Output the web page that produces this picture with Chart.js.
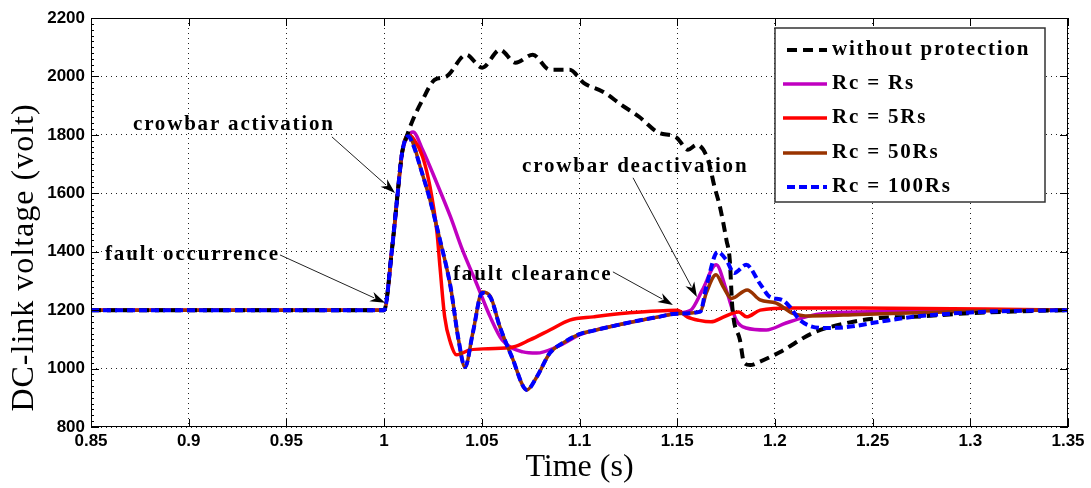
<!DOCTYPE html>
<html>
<head>
<meta charset="utf-8">
<title>DC-link voltage</title>
<script src="https://cdn.jsdelivr.net/npm/chart.js@4.4.0/dist/chart.umd.min.js"></script>
<style>
  html, body { margin: 0; padding: 0; background: #fff; }
  #wrap { width: 1091px; height: 488px; }
</style>
</head>
<body>
<div id="wrap"><canvas id="dcChart" width="1091" height="488"></canvas></div>
<script>
// --- tick labels ---
const xTickValues = [0.85, 0.9, 0.95, 1.0, 1.05, 1.1, 1.15, 1.2, 1.25, 1.3, 1.35];
const xTickLabels = ['0.85', '0.9', '0.95', '1', '1.05', '1.1', '1.15', '1.2', '1.25', '1.3', '1.35'];
const yTickValues = [800, 1000, 1200, 1400, 1600, 1800, 2000, 2200];
const yTickLabels = ['800', '1000', '1200', '1400', '1600', '1800', '2000', '2200'];

// --- series (time in s, voltage in V) ---
const seriesNames = ['without protection', 'Rc = Rs', 'Rc = 5Rs', 'Rc = 50Rs', 'Rc = 100Rs'];

const tBlack = [0.85, 1.0, 1.004, 1.0066, 1.0092, 1.0116, 1.0147, 1.0197, 1.0258, 1.0319, 1.042, 1.0502, 1.0593, 1.0673, 1.0761, 1.0848, 1.095, 1.1021, 1.1122, 1.1214, 1.1305, 1.1397, 1.1498, 1.1555, 1.16, 1.1658, 1.1691, 1.1719, 1.1752, 1.1769, 1.1782, 1.1821, 1.1843, 1.1874, 1.1921, 1.2027, 1.2195, 1.2368, 1.2535, 1.2708, 1.3003, 1.3261, 1.35];
const vBlack = [1200, 1200, 1406, 1577, 1738, 1795, 1851, 1920, 1988, 2000, 2074, 2030, 2091, 2047, 2074, 2023, 2023, 1978, 1947, 1903, 1862, 1810, 1790, 1749, 1766, 1714, 1622, 1553, 1440, 1372, 1211, 1098, 1019, 1012, 1023, 1057, 1122, 1156, 1173, 1177, 1190, 1196, 1200];

const tMag = [0.85, 1.0, 1.004, 1.0066, 1.0092, 1.0122, 1.0148, 1.0197, 1.0269, 1.034, 1.0401, 1.0472, 1.0543, 1.0604, 1.0711, 1.0781, 1.0883, 1.1, 1.1071, 1.1243, 1.1405, 1.1498, 1.1569, 1.1629, 1.17, 1.1751, 1.1802, 1.1853, 1.1956, 1.2057, 1.2195, 1.2281, 1.2566, 1.3074, 1.35];
const vMag = [1200, 1200, 1406, 1577, 1738, 1795, 1810, 1749, 1636, 1519, 1406, 1293, 1177, 1098, 1057, 1053, 1074, 1115, 1130, 1156, 1177, 1190, 1200, 1269, 1355, 1269, 1166, 1139, 1132, 1156, 1183, 1190, 1195, 1199, 1200];

const tRed = [0.85, 1.0, 1.004, 1.0066, 1.0092, 1.0122, 1.0152, 1.0197, 1.0235, 1.0271, 1.0286, 1.031, 1.034, 1.037, 1.0441, 1.0533, 1.066, 1.0746, 1.0848, 1.095, 1.1071, 1.1244, 1.15, 1.1551, 1.1612, 1.1673, 1.1733, 1.1785, 1.1815, 1.1855, 1.1925, 1.2088, 1.2434, 1.3074, 1.35];
const vRed = [1200, 1200, 1406, 1577, 1738, 1800, 1785, 1725, 1622, 1464, 1348, 1177, 1088, 1047, 1064, 1068, 1074, 1098, 1132, 1166, 1177, 1190, 1200, 1177, 1165, 1160, 1175, 1190, 1194, 1177, 1200, 1207, 1207, 1204, 1200];

const tBrown = [0.85, 1.0, 1.004, 1.0066, 1.0092, 1.0122, 1.0152, 1.0185, 1.0235, 1.0286, 1.034, 1.0381, 1.0414, 1.0454, 1.0502, 1.0543, 1.0593, 1.0654, 1.0731, 1.0781, 1.0848, 1.0916, 1.1, 1.1071, 1.1243, 1.1405, 1.1498, 1.1618, 1.1649, 1.1699, 1.1734, 1.1778, 1.1858, 1.1924, 1.2007, 1.2088, 1.218, 1.2433, 1.2769, 1.3074, 1.35];
const vBrown = [1200, 1200, 1406, 1577, 1738, 1800, 1765, 1690, 1577, 1440, 1280, 1098, 1005, 1122, 1262, 1248, 1142, 1040, 927, 971, 1053, 1088, 1118, 1130, 1156, 1177, 1188, 1195, 1259, 1321, 1282, 1240, 1269, 1235, 1224, 1190, 1180, 1185, 1192, 1198, 1200];

const tBlue = [0.85, 1.0, 1.004, 1.0066, 1.0092, 1.0122, 1.0152, 1.0185, 1.0235, 1.0286, 1.034, 1.0381, 1.0414, 1.0454, 1.0502, 1.0543, 1.0593, 1.0654, 1.0731, 1.0781, 1.0848, 1.0916, 1.1, 1.1071, 1.1243, 1.1405, 1.1498, 1.1618, 1.1649, 1.1707, 1.1751, 1.1792, 1.1853, 1.1924, 1.1975, 1.2037, 1.2077, 1.2128, 1.2246, 1.2368, 1.2535, 1.2708, 1.3053, 1.35];
const vBlue = [1200, 1200, 1406, 1577, 1738, 1795, 1760, 1690, 1577, 1440, 1280, 1098, 1005, 1122, 1259, 1245, 1142, 1040, 927, 971, 1053, 1088, 1118, 1130, 1156, 1177, 1188, 1195, 1280, 1399, 1372, 1327, 1355, 1290, 1245, 1235, 1211, 1166, 1139, 1142, 1160, 1177, 1194, 1200];

// --- annotations: text, text anchor (time, volt), arrow tail and head (time, volt) ---
const notes = [
  { text: 'crowbar activation',   at: [0.8715, 1834], from: [0.9733, 1793], to: [1.0056, 1601] },
  { text: 'fault occurrence',     at: [0.8572, 1389], from: [0.9467, 1389], to: [1.0005, 1225] },
  { text: 'fault clearance',      at: [1.0353, 1321], from: [1.1171, 1331], to: [1.1478, 1218] },
  { text: 'crowbar deactivation', at: [1.0706, 1690], from: [1.1274, 1653], to: [1.1601, 1245] }
];

function pts(ts, vs) {
  return ts.map((t, i) => ({ x: t, y: vs[i] }));
}

const serifBold = 'bold 21px "Liberation Serif", "DejaVu Serif", serif';

// frame, inward ticks, y title, annotations and the boxed legend
const decorPlugin = {
  id: 'decor',
  afterDraw(chart) {
    const { ctx, chartArea: a, scales: { x, y } } = chart;
    ctx.save();

    // plot frame
    ctx.setLineDash([]);
    ctx.strokeStyle = '#000';
    ctx.lineWidth = 1;
    ctx.strokeRect(a.left + 0.5, a.top + 0.5, a.right - a.left - 1, a.bottom - a.top - 1);

    // inward ticks (matlab look)
    ctx.beginPath();
    x.ticks.forEach(t => {
      const px = Math.round(x.getPixelForValue(t.value)) + 0.5;
      ctx.moveTo(px, a.bottom); ctx.lineTo(px, a.bottom - 8);
      ctx.moveTo(px, a.top); ctx.lineTo(px, a.top + 8);
    });
    y.ticks.forEach(t => {
      const py = Math.round(y.getPixelForValue(t.value)) + 0.5;
      ctx.moveTo(a.left, py); ctx.lineTo(a.left + 8, py);
      ctx.moveTo(a.right, py); ctx.lineTo(a.right - 8, py);
    });
    for (let v = y.min; v <= y.max; v += 20) {
      const py = Math.round(y.getPixelForValue(v)) + 0.5;
      ctx.moveTo(a.left, py); ctx.lineTo(a.left + 3, py);
    }
    ctx.stroke();

    // y axis title
    ctx.save();
    ctx.translate(a.left - 66, (a.top + a.bottom) / 2 + 35);
    ctx.rotate(-Math.PI / 2);
    ctx.font = '32px "Liberation Serif", "DejaVu Serif", serif';
    ctx.letterSpacing = '1px';
    ctx.fillStyle = '#000';
    ctx.textAlign = 'center';
    ctx.textBaseline = 'middle';
    ctx.fillText('DC-link voltage (volt)', 0, 0);
    ctx.restore();

    // annotations
    ctx.font = serifBold;
    ctx.letterSpacing = '1.8px';
    ctx.textAlign = 'left';
    ctx.textBaseline = 'middle';
    notes.forEach(n => {
      ctx.fillStyle = '#000';
      ctx.fillText(n.text, x.getPixelForValue(n.at[0]), y.getPixelForValue(n.at[1]));
      const x0 = x.getPixelForValue(n.from[0]), y0 = y.getPixelForValue(n.from[1]);
      const x1 = x.getPixelForValue(n.to[0]), y1 = y.getPixelForValue(n.to[1]);
      const ang = Math.atan2(y1 - y0, x1 - x0);
      const len = 15, half = 5;
      ctx.strokeStyle = '#222';
      ctx.lineWidth = 1;
      ctx.beginPath();
      ctx.moveTo(x0, y0);
      ctx.lineTo(x1 - Math.cos(ang) * len * 0.8, y1 - Math.sin(ang) * len * 0.8);
      ctx.stroke();
      ctx.fillStyle = '#000';
      ctx.beginPath();
      ctx.moveTo(x1, y1);
      ctx.lineTo(x1 - Math.cos(ang) * len - Math.sin(ang) * half, y1 - Math.sin(ang) * len + Math.cos(ang) * half);
      ctx.lineTo(x1 - Math.cos(ang) * len * 0.7, y1 - Math.sin(ang) * len * 0.7);
      ctx.lineTo(x1 - Math.cos(ang) * len + Math.sin(ang) * half, y1 - Math.sin(ang) * len - Math.cos(ang) * half);
      ctx.closePath();
      ctx.fill();
    });

    // legend box
    const L = a.right - 293, T = a.top + 10, W = 270, H = 174;
    ctx.fillStyle = '#fff';
    ctx.fillRect(L, T, W, H);
    ctx.strokeStyle = '#333';
    ctx.lineWidth = 1.5;
    ctx.setLineDash([]);
    ctx.strokeRect(L, T, W, H);
    chart.data.datasets.forEach((ds, i) => {
      const ry = Math.round(T + 22 + i * 34.2);
      ctx.strokeStyle = ds.borderColor;
      ctx.lineWidth = ds.borderWidth;
      ctx.setLineDash(ds.borderDash || []);
      ctx.beginPath();
      ctx.moveTo(L + (ds.borderDash ? 12 : 8), ry);
      ctx.lineTo(L + 52, ry);
      ctx.stroke();
      ctx.setLineDash([]);
      ctx.fillStyle = '#000';
      ctx.fillText(ds.label, L + 57, ry);
    });

    ctx.restore();
  }
};

const tickFont = { family: '"Liberation Sans", Arial, sans-serif', size: 17, weight: 'bold' };

new Chart(document.getElementById('dcChart'), {
  type: 'line',
  data: {
    datasets: [
      { label: seriesNames[0], data: pts(tBlack, vBlack), borderColor: '#000000', borderWidth: 4, borderDash: [10, 6], order: 1 },
      { label: seriesNames[1], data: pts(tMag, vMag), borderColor: '#C000C0', borderWidth: 3.5, order: 4 },
      { label: seriesNames[2], data: pts(tRed, vRed), borderColor: '#FF0000', borderWidth: 3.5, order: 3 },
      { label: seriesNames[3], data: pts(tBrown, vBrown), borderColor: '#993300', borderWidth: 3.5, order: 2 },
      { label: seriesNames[4], data: pts(tBlue, vBlue), borderColor: '#0000FF', borderWidth: 4, borderDash: [8, 4], order: 0 }
    ]
  },
  options: {
    responsive: false,
    animation: false,
    devicePixelRatio: 1,
    layout: { padding: { top: 18, right: 23, left: 0, bottom: 0 } },
    elements: {
      point: { radius: 0 },
      line: { cubicInterpolationMode: 'monotone', fill: false }
    },
    plugins: {
      legend: { display: false },
      tooltip: { enabled: false }
    },
    scales: {
      x: {
        type: 'linear',
        min: 0.85,
        max: 1.35,
        afterBuildTicks: s => { s.ticks = xTickValues.map(v => ({ value: v })); },
        afterFit: s => { s.height = 61; },
        ticks: {
          autoSkip: false,
          maxRotation: 0,
          padding: 4,
          color: '#000',
          font: tickFont,
          callback: (v, i) => xTickLabels[i]
        },
        grid: { color: '#222', lineWidth: 1, drawTicks: false },
        border: { display: false, dash: [1, 4] },
        title: {
          display: true,
          text: 'Time (s)',
          color: '#000',
          font: { family: '"Liberation Serif", "DejaVu Serif", serif', size: 32 },
          padding: { top: 0, bottom: 1 }
        }
      },
      y: {
        min: 800,
        max: 2200,
        afterBuildTicks: s => { s.ticks = yTickValues.map(v => ({ value: v })); },
        afterFit: s => { s.width = 91; },
        ticks: {
          autoSkip: false,
          padding: 6,
          color: '#000',
          font: tickFont,
          callback: (v, i) => yTickLabels[i]
        },
        grid: { color: '#222', lineWidth: 1, drawTicks: false },
        border: { display: false, dash: [1, 4] }
      }
    }
  },
  plugins: [decorPlugin]
});
</script>
</body>
</html>
